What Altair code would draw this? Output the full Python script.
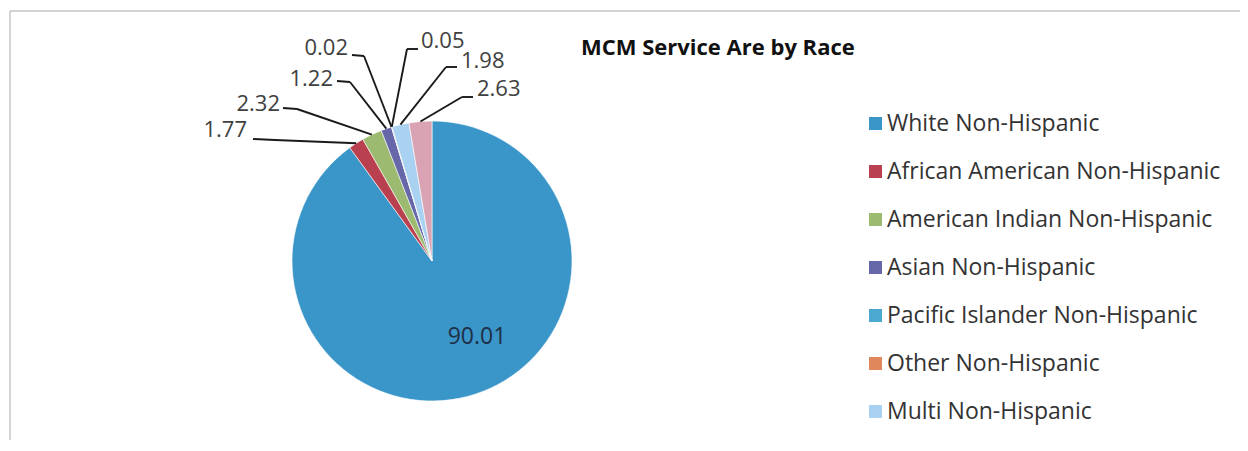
import altair as alt
import pandas as pd

# ---------------- data ----------------
categories = [
    "White Non-Hispanic",
    "African American Non-Hispanic",
    "American Indian Non-Hispanic",
    "Asian Non-Hispanic",
    "Pacific Islander Non-Hispanic",
    "Other Non-Hispanic",
    "Multi Non-Hispanic",
    "Hispanic",
]
values = [90.01, 1.77, 2.32, 1.22, 0.02, 0.05, 1.98, 2.63]
value_labels = ["90.01", "1.77", "2.32", "1.22", "0.02", "0.05", "1.98", "2.63"]
legend_entries = categories[:7]
title_text = "MCM Service Are by Race"

# ---------------- style / layout ----------------
colors = ["#3A95C8", "#B8404F", "#9CBB70", "#6567A9", "#4BA9D1", "#E0885C", "#A9D1F1", "#D9A3B3"]
OFF = 8                      # page margin
CX, CY, R = 432 - OFF, 261 - OFF, 140
FONT = "Open Sans"

# label anchor (page coords), alignment, leader start and elbow (page coords)
label_x = [477, 247, 280, 333, 348, 421, 461, 477]
label_y = [337, 130, 104, 79, 48, 41, 61, 89]
label_align = ["center", "right", "right", "right", "right", "left", "left", "left"]
lead_sx = [None, 253, 283, 337, 352, 418, 457, 473]
lead_sy = [None, 139, 108, 81, 55, 49, 67, 97]
lead_ex = [None, 275, 297, 350, 364, 407, 446, 462]
lead_ey = [None, 140, 109, 82, 56, 49, 67, 97]

df = pd.DataFrame({
    "idx": list(range(len(categories))),
    "category": categories,
    "value": values,
    "label": value_labels,
    "lx": [v - OFF for v in label_x],
    "ly": [v - OFF for v in label_y],
    "align": label_align,
    "sx": [None if v is None else v - OFF for v in lead_sx],
    "sy": [None if v is None else v - OFF for v in lead_sy],
    "bx": [None if v is None else v - OFF for v in lead_ex],
    "by": [None if v is None else v - OFF for v in lead_ey],
})

base = alt.Chart(df)

pie = base.mark_arc(radius=R, stroke="white", strokeWidth=0.6).encode(
    theta=alt.Theta("value:Q", stack=True),
    order=alt.Order("idx:Q", sort="ascending"),
    color=alt.Color(
        "category:N",
        scale=alt.Scale(domain=categories, range=colors),
        legend=alt.Legend(
            values=legend_entries,
            orient="none",
            legendX=864 - OFF,
            legendY=104,
            padding=0,
            title=None,
            symbolType="square",
            symbolSize=169,
            symbolStrokeWidth=0,
            labelFont=FONT,
            labelFontSize=23,
            labelColor="#333333",
            labelOffset=0,
            rowPadding=24,
            labelLimit=600,
        ),
    ),
    x=alt.value(CX),
    y=alt.value(CY),
)

# slice-edge points for leader lines, computed from the values
edges = base.transform_joinaggregate(total="sum(value)").transform_window(
    cum="sum(value)", sort=[alt.SortField("idx", order="ascending")], frame=[None, 0]
).transform_calculate(
    ang="(datum.cum - datum.value / 2) / datum.total * 2 * PI",
).transform_calculate(
    px=f"{CX} + {R} * sin(datum.ang)",
    py=f"{CY} - {R} * cos(datum.ang)",
).transform_filter("datum.sx != null")

lead1 = edges.mark_rule(color="#1a1a1a", strokeWidth=1.9).encode(
    x=alt.X("sx:Q", scale=None), y=alt.Y("sy:Q", scale=None),
    x2="bx:Q", y2="by:Q",
)
lead2 = edges.mark_rule(color="#1a1a1a", strokeWidth=1.9).encode(
    x=alt.X("bx:Q", scale=None), y=alt.Y("by:Q", scale=None),
    x2="px:Q", y2="py:Q",
)

def label_layer(al, color, size):
    return base.transform_filter(f"datum.align == '{al}'").mark_text(
        font=FONT, fontSize=size, align=al, baseline="middle", color=color
    ).encode(
        x=alt.X("lx:Q", scale=None), y=alt.Y("ly:Q", scale=None), text="label:N"
    )

labels_r = label_layer("right", "#404040", 22)
labels_l = label_layer("left", "#404040", 22)
labels_c = label_layer("center", "#1f2f45", 23)

dummy = alt.Chart(pd.DataFrame({"t": [title_text]}))
title = dummy.mark_text(
    font=FONT, fontSize=22, fontWeight="bold", align="left", baseline="middle", color="#111111"
).encode(x=alt.value(581 - OFF), y=alt.value(48 - OFF), text="t:N")

border_c = "#c4c4c4"
b_left = dummy.mark_rule(color=border_c, strokeWidth=1.5).encode(
    x=alt.value(10 - OFF), y=alt.value(11 - OFF), y2=alt.value(440))
b_top = dummy.mark_rule(color=border_c, strokeWidth=1.5).encode(
    x=alt.value(10 - OFF), x2=alt.value(1244 - OFF), y=alt.value(11 - OFF))
b_right = dummy.mark_rule(color=border_c, strokeWidth=1.2).encode(
    x=alt.value(1244 - OFF), y=alt.value(11 - OFF), y2=alt.value(440))

chart = alt.layer(
    b_left, b_top, b_right, pie, lead1, lead2, labels_r, labels_l, labels_c, title
).properties(
    width=1232, height=432, padding=0,
    autosize=alt.AutoSizeParams(type="none"),
).configure_view(stroke=None)

chart.save("out.html", embed_options={"renderer": "svg", "actions": False})
